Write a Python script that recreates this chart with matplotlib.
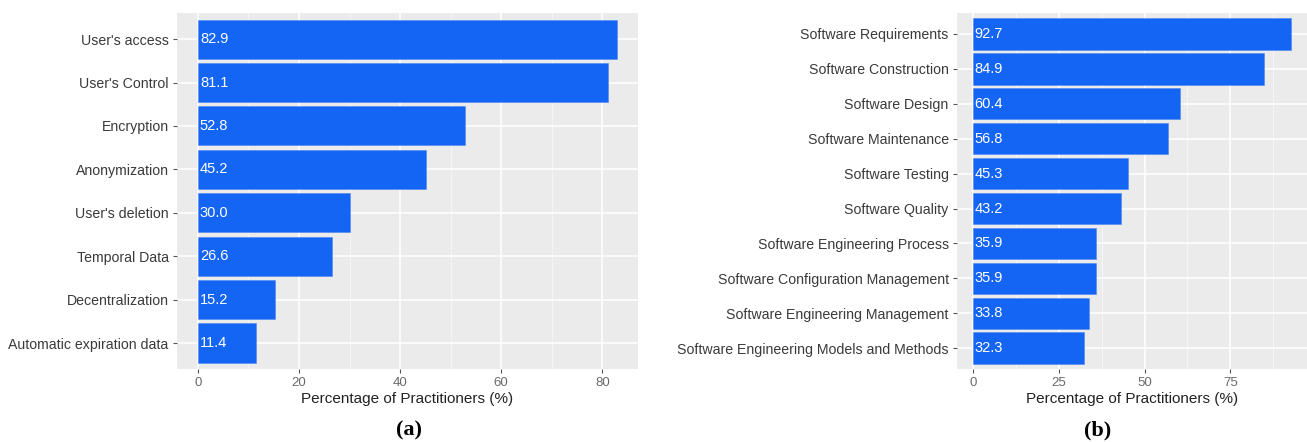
import matplotlib.pyplot as plt
import numpy as np

plt.rcParams['font.family'] = ['Liberation Sans', 'DejaVu Sans']

# panel (a): privacy mechanisms
labels_a = ["User's access", "User's Control", "Encryption", "Anonymization",
            "User's deletion", "Temporal Data", "Decentralization",
            "Automatic expiration data"]
values_a = [82.9, 81.1, 52.8, 45.2, 30.0, 26.6, 15.2, 11.4]
ticks_a = [0, 20, 40, 60, 80]
minor_a = [10, 30, 50, 70]

# panel (b): SWEBOK knowledge areas
labels_b = ["Software Requirements", "Software Construction", "Software Design",
            "Software Maintenance", "Software Testing", "Software Quality",
            "Software Engineering Process", "Software Configuration Management",
            "Software Engineering Management",
            "Software Engineering Models and Methods"]
values_b = [92.7, 84.9, 60.4, 56.8, 45.3, 43.2, 35.9, 35.9, 33.8, 32.3]
ticks_b = [0, 25, 50, 75]
minor_b = [12.5, 37.5, 62.5, 87.5]

BAR = '#1565F5'
PANEL = '#EBEBEB'


def hbar_panel(ax, labels, values, ticks, minor):
    n = len(labels)
    y = np.arange(n)[::-1]
    ax.set_facecolor(PANEL)
    ax.set_axisbelow(True)
    for v in minor:
        ax.axvline(v, color='#F7F7F7', lw=0.6, zorder=0)
    for t in ticks:
        ax.axvline(t, color='white', lw=1.1, zorder=0)
    for yy in y:
        ax.axhline(yy, color='white', lw=1.1, zorder=0)
    ax.barh(y, values, height=0.9, color=BAR, edgecolor='#4F86F5',
            linewidth=0.4, zorder=2)
    for yy, v in zip(y, values):
        ax.text(0.4, yy, f"{v:.1f}", color='white', fontsize=10.5,
                va='center', ha='left', zorder=3)
    top = max(values)
    ax.set_xlim(-0.05 * top, top * 1.05)
    ax.set_ylim(-0.6, n - 0.4)
    ax.set_yticks(y)
    ax.set_yticklabels(labels, fontsize=10.2, color='#3A3A3A')
    ax.set_xticks(ticks)
    ax.set_xticklabels([str(t) for t in ticks], fontsize=9.5, color='#6A6A6A')
    ax.tick_params(length=3, width=0.8, color='#555555', pad=3)
    for s in ax.spines.values():
        s.set_visible(False)
    ax.set_xlabel('Percentage of Practitioners (%)', fontsize=11,
                  color='#222222', labelpad=2)


fig = plt.figure(figsize=(13.07, 4.42), dpi=100)
ax_a = fig.add_axes([0.1354, 0.165, 0.3527, 0.8055])
ax_b = fig.add_axes([0.7322, 0.165, 0.2678, 0.8055])

hbar_panel(ax_a, labels_a, values_a, ticks_a, minor_a)
hbar_panel(ax_b, labels_b, values_b, ticks_b, minor_b)

fig.text(0.313, 0.027, '(a)', family='Liberation Serif', fontweight='bold',
         fontsize=16, ha='center', va='center')
fig.text(0.840, 0.027, '(b)', family='Liberation Serif', fontweight='bold',
         fontsize=16, ha='center', va='center')

fig.savefig('out.png', dpi=100)
